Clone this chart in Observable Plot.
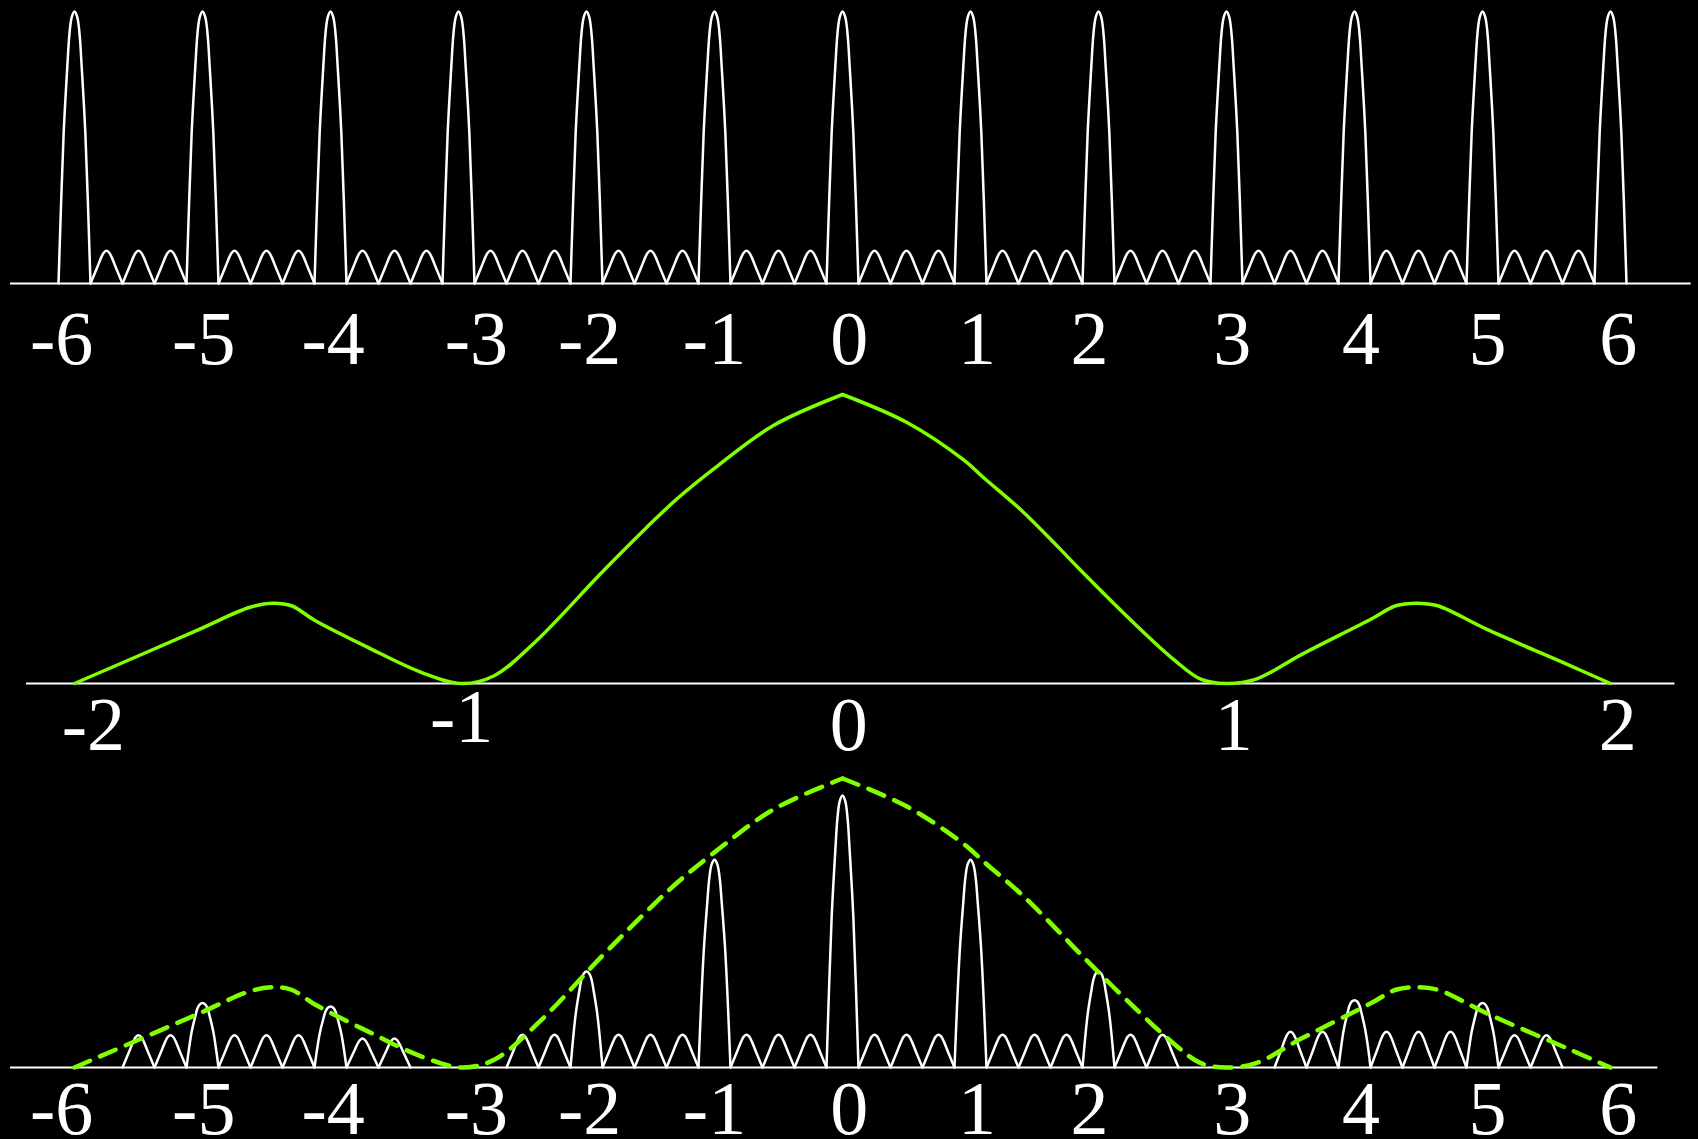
<!DOCTYPE html>
<html>
<head>
<meta charset="utf-8">
<script src="https://cdn.jsdelivr.net/npm/d3@7"></script>
<script src="https://cdn.jsdelivr.net/npm/@observablehq/plot@0.6"></script>
<style>
  html, body { margin: 0; padding: 0; background: #000; }
  #chart { width: 1698px; height: 1139px; background: #000; overflow: hidden; }
  #chart svg { display: block; }
</style>
</head>
<body>
<div id="chart"></div>
<script>
// ---------------- data ----------------
// interference orders (principal maxima positions)
const orders = [-6, -5, -4, -3, -2, -1, 0, 1, 2, 3, 4, 5, 6];
const orderLabels = ["-6", "-5", "-4", "-3", "-2", "-1", "0", "1", "2", "3", "4", "5", "6"];
// where each order label sits (in order units), as drawn
const orderLabelX = [-6.1, -4.99, -3.98, -2.86, -1.975, -1.0, 0.053, 1.05, 1.93, 3.045, 4.05, 5.04, 6.06];

// top panel: multi-slit pattern (principal peak height = 1)
const topPeakHeights = [1, 1, 1, 1, 1, 1, 1, 1, 1, 1, 1, 1, 1];
const archOffsets = [0.25, 0.5, 0.75];          // secondary maxima between orders
const topArchHeight = 0.12;
const topAxisExtent = [-6.5, 6.63];
const topLabelY = -0.297;

// shape of one principal peak and one secondary arch (offset in orders, relative height)
const peakShapeDx  = [-0.125, -0.085, -0.057, -0.039, -0.021, 0, 0.021, 0.039, 0.057, 0.085, 0.125];
const peakShapeRel = [0, 0.55, 0.79, 0.92, 0.98, 1, 0.98, 0.92, 0.79, 0.55, 0];
const archShapeDx  = [-0.125, -0.073, -0.041, -0.02, 0, 0.02, 0.041, 0.073, 0.125];
const archShapeRel = [0, 0.49, 0.8, 0.95, 1, 0.95, 0.8, 0.49, 0];

// middle panel: single-slit envelope
const envelopeX = [-2, -1.684, -1.545, -1.485, -1.435, -1.375, -1.236, -1.096, -0.991, -0.907, -0.797,
  -0.63, -0.51, -0.43, -0.331, -0.181, 0, 0.168, 0.318, 0.367, 0.467, 0.567, 0.617, 0.766, 0.866,
  0.933, 1.0, 1.077, 1.195, 1.377, 1.441, 1.495, 1.55, 1.677, 1.896, 2];
const envelopeY = [0, 0.182, 0.263, 0.278, 0.269, 0.219, 0.125, 0.038, 0, 0.027, 0.148,
  0.38, 0.54, 0.64, 0.747, 0.892, 1, 0.903, 0.771, 0.713, 0.598, 0.465, 0.396, 0.2, 0.079,
  0.015, 0, 0.015, 0.10, 0.223, 0.269, 0.278, 0.269, 0.188, 0.061, 0];
const envLabels = ["-2", "-1", "0", "1", "2"];
const envLabelX = [-1.951, -0.992, 0.016, 1.019, 2.019];
const envLabelY = [-0.231, -0.204, -0.231, -0.231, -0.231];
const midAxisExtent = [-2.125, 2.168];
const ordersPerEnvelopeUnit = 3;

// bottom panel: combined pattern (envelope maximum = 1)
const bottomPeakHeights = [0, 0.223, 0.211, 0, 0.332, 0.719, 0.941, 0.719, 0.332, 0, 0.233, 0.223, 0];
const bottomArchCenters = [-5.5, -5.25, -4.75, -4.5, -4.25, -3.75, -3.5,
  -2.5, -2.25, -1.75, -1.5, -1.25, -0.75, -0.5, -0.25, 0.25, 0.5, 0.75, 1.25, 1.5, 1.75, 2.25, 2.5,
  3.5, 3.75, 4.25, 4.5, 4.75, 5.25, 5.5];
const bottomArchHeights = [0.112, 0.112, 0.112, 0.112, 0.112, 0.100, 0.100,
  0.113, 0.113, 0.113, 0.113, 0.113, 0.113, 0.113, 0.113, 0.113, 0.113, 0.113, 0.113, 0.113, 0.113, 0.113, 0.113,
  0.124, 0.124, 0.124, 0.124, 0.124, 0.112, 0.112];
const bottomAxisExtent = [-6.5, 6.37];
const bottomLabelY = -0.229;

// ---------------- build mark tables ----------------
function addShape(rows, seg, center, height, dxs, rels) {
  dxs.forEach((dx, i) => rows.push({x: center + dx, y: height * rels[i], seg}));
}

const topRows = [];
orders.forEach((k, i) => {
  addShape(topRows, "p" + k, k, topPeakHeights[i], peakShapeDx, peakShapeRel);
  if (i < orders.length - 1) {
    archOffsets.forEach(o => addShape(topRows, "a" + (k + o), k + o, topArchHeight, archShapeDx, archShapeRel));
  }
});

const bottomRows = [];
orders.forEach((k, i) => {
  if (bottomPeakHeights[i] > 0) addShape(bottomRows, "p" + k, k, bottomPeakHeights[i], peakShapeDx, peakShapeRel);
});
bottomArchCenters.forEach((c, i) => addShape(bottomRows, "a" + c, c, bottomArchHeights[i], archShapeDx, archShapeRel));

function envelopeRows(xScale) {
  const rows = [];
  envelopeX.forEach((x, i) => {
    if (x <= 0) rows.push({x: x * xScale, y: envelopeY[i], side: "L"});
    if (x >= 0) rows.push({x: x * xScale, y: envelopeY[i], side: "R"});
  });
  return rows;
}

const orderLabelRows = orders.map((k, i) => ({x: orderLabelX[i], text: orderLabels[i]}));
const envLabelRows = envLabels.map((t, i) => ({x: envLabelX[i], y: envLabelY[i], text: t}));

// ---------------- drawing ----------------
const W = 1698;
const GREEN = "#7fff00";
const FONT = "Liberation Serif";
const common = {
  width: W,
  marginLeft: 74,
  marginRight: 88,
  style: {background: "black", color: "white", overflow: "visible"},
};
const labelOpts = {fill: "white", fontSize: 76, fontFamily: FONT, textAnchor: "middle", lineAnchor: "bottom"};

const topPlot = Plot.plot({
  ...common,
  height: 380, marginTop: 11, marginBottom: 97,
  x: {domain: [-6, 6], axis: null},
  y: {domain: [0, 1], axis: null},
  marks: [
    Plot.ruleY([{y: 0, x1: topAxisExtent[0], x2: topAxisExtent[1]}], {y: "y", x1: "x1", x2: "x2", stroke: "white", strokeWidth: 2}),
    Plot.line(topRows, {x: "x", y: "y", z: "seg", stroke: "white", strokeWidth: 2.5, curve: "catmull-rom"}),
    Plot.text(orderLabelRows, {x: "x", y: () => topLabelY, text: "text", ...labelOpts})
  ]
});

const midPlot = Plot.plot({
  ...common,
  height: 380, marginTop: 14, marginBottom: 77,
  x: {domain: [-2, 2], axis: null},
  y: {domain: [0, 1], axis: null},
  marks: [
    Plot.ruleY([{y: 0, x1: midAxisExtent[0], x2: midAxisExtent[1]}], {y: "y", x1: "x1", x2: "x2", stroke: "white", strokeWidth: 2}),
    Plot.line(envelopeRows(1), {x: "x", y: "y", z: "side", stroke: GREEN, strokeWidth: 3.5, curve: "catmull-rom"}),
    Plot.text(envLabelRows, {x: "x", y: "y", text: "text", ...labelOpts})
  ]
});

const bottomPlot = Plot.plot({
  ...common,
  height: 379, marginTop: 18, marginBottom: 72,
  x: {domain: [-6, 6], axis: null},
  y: {domain: [0, 1], axis: null},
  marks: [
    Plot.ruleY([{y: 0, x1: bottomAxisExtent[0], x2: bottomAxisExtent[1]}], {y: "y", x1: "x1", x2: "x2", stroke: "white", strokeWidth: 2}),
    Plot.line(bottomRows, {x: "x", y: "y", z: "seg", stroke: "white", strokeWidth: 2.5, curve: "catmull-rom"}),
    Plot.line(envelopeRows(ordersPerEnvelopeUnit), {x: "x", y: "y", z: "side", stroke: GREEN, strokeWidth: 4.5, strokeDasharray: "17,11", curve: "catmull-rom"}),
    Plot.text(orderLabelRows, {x: "x", y: () => bottomLabelY, text: "text", ...labelOpts})
  ]
});

document.getElementById("chart").append(topPlot, midPlot, bottomPlot);
</script>
</body>
</html>
